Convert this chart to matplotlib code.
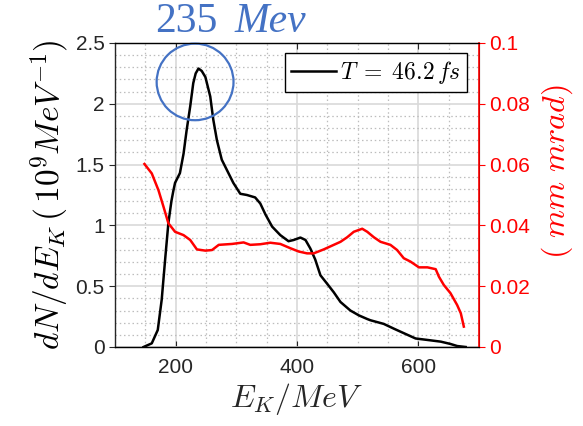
import matplotlib
import matplotlib.pyplot as plt
from matplotlib.patches import Ellipse
from matplotlib.ticker import MultipleLocator

matplotlib.use("agg")

# spectrum (left axis), 10^9 MeV^-1
energy_spec = [147, 160.6, 170.5, 177, 183, 188, 193, 196, 199, 207, 213, 218,
               224, 229, 233, 237.6, 243, 249, 257, 262, 268, 276, 287, 295,
               306.5, 317.5, 331, 339.5, 348, 359, 372.5, 386, 394.5, 405.6,
               414, 422, 430, 438.6, 449.7, 460.6, 471.7, 488, 502, 515.8,
               521, 543, 560, 579, 595.5, 615, 637, 653, 664, 678]
dn_de = [0.0, 0.03, 0.14, 0.39, 0.74, 1.02, 1.20, 1.28, 1.35, 1.43, 1.59, 1.78,
         1.98, 2.17, 2.25, 2.29, 2.27, 2.22, 2.06, 1.87, 1.70, 1.54, 1.43, 1.35,
         1.26, 1.25, 1.23, 1.18, 1.09, 0.99, 0.92, 0.87, 0.88, 0.90,
         0.88, 0.81, 0.72, 0.59, 0.52, 0.45, 0.37, 0.30, 0.26, 0.23,
         0.22, 0.19, 0.15, 0.107, 0.07, 0.058, 0.044, 0.025, 0.008, 0.0]

# emittance (right axis), mm mrad
energy_emit = [148.5, 160.6, 171.6, 180, 188, 199, 213, 224, 235, 249, 260,
               271, 293, 312, 323, 339.5, 356, 372.5, 389, 403, 416.6, 427.5,
               444, 460.6, 471.7, 482.7, 493.6, 507.5, 515.8, 526.7, 537.7,
               554, 565, 576, 587, 601, 615, 628.6, 634, 642, 653, 664, 670,
               675]
emittance = [0.0602, 0.0571, 0.0516, 0.0461, 0.0407, 0.0379, 0.0368, 0.0352,
             0.0321, 0.0317, 0.0319, 0.0336, 0.0339, 0.0344, 0.0336, 0.0338,
             0.0343, 0.0339, 0.0325, 0.0314, 0.0308, 0.0308, 0.0321, 0.0336,
             0.0346, 0.0361, 0.0379, 0.0389, 0.0379, 0.0361, 0.0346, 0.0336,
             0.0319, 0.0292, 0.0281, 0.0262, 0.0262, 0.0256, 0.0231, 0.0204,
             0.0177, 0.0138, 0.0111, 0.0067]

left_ticks = [0, 0.5, 1, 1.5, 2, 2.5]
left_ticklabels = ["0", "0.5", "1", "1.5", "2", "2.5"]
right_ticks = [0, 0.02, 0.04, 0.06, 0.08, 0.1]
right_ticklabels = ["0", "0.02", "0.04", "0.06", "0.08", "0.1"]
x_ticks = [200, 400, 600]

peak_label = "235"
legend_label = r"$T\;=\;46.2\,fs$"

plt.rcParams["mathtext.fontset"] = "cm"
plt.rcParams["font.family"] = ["Liberation Sans", "DejaVu Sans"]

fig = plt.figure(figsize=(5.83, 4.26), dpi=100)
ax = fig.add_axes([115 / 583, 1 - 347 / 426, 364 / 583, 304 / 426])
ax2 = ax.twinx()

dark = "#262626"
red = "#ff0000"
blue = "#4472c4"

# grid
ax.set_axisbelow(True)
ax.xaxis.set_minor_locator(MultipleLocator(50))
ax.yaxis.set_minor_locator(MultipleLocator(0.1))
ax.grid(which="major", color="#d9d9d9", linewidth=1.2)
ax.grid(which="minor", color="#bdbdbd", linestyle=(0, (1.2, 2.2)), linewidth=0.9)

ax.plot(energy_spec, dn_de, color="black", linewidth=1.8, label=legend_label)
ax2.plot(energy_emit, emittance, color=red, linewidth=1.8)

ax.set_xlim(100, 700)
ax.set_ylim(0, 2.5)
ax2.set_ylim(0, 0.1)
ax.set_xticks(x_ticks)
ax.set_yticks(left_ticks, left_ticklabels)
ax2.set_yticks(right_ticks, right_ticklabels)

ax.tick_params(axis="x", which="both", direction="in", top=True, colors=dark,
               labelsize=15, length=4, pad=8)
ax.tick_params(axis="x", which="minor", length=0)
ax.tick_params(axis="y", which="major", direction="out", colors=dark,
               labelsize=15, length=4)
ax.tick_params(axis="y", which="minor", length=0)
ax2.tick_params(axis="y", direction="out", colors=red, labelsize=15, length=4)

for side in ["left", "bottom", "top"]:
    ax.spines[side].set_color(dark)
    ax.spines[side].set_linewidth(1.0)
ax2.spines["right"].set_color(red)
ax2.spines["right"].set_linewidth(1.2)
ax2.spines["left"].set_visible(False)

ax.set_xlabel(r"$E_K/MeV$", fontsize=23, color=dark, labelpad=3)
ax.set_ylabel(r"$dN/dE_K\,(\,10^9MeV^{-1})$", fontsize=24, color="black",
              labelpad=3)
fig.text(557 / 583, 1 - 172 / 426, r"$(\ mm\ mrad)$", fontsize=23, color=red,
         rotation=90, ha="center", va="center")

leg = ax.legend(loc="upper right", bbox_to_anchor=(0.967, 0.967),
                borderaxespad=0, fontsize=17, frameon=True, fancybox=False,
                edgecolor="black", framealpha=1, handlelength=1.9,
                handletextpad=0.2, borderpad=0.25)
leg.get_frame().set_linewidth(1.0)

# circle round the peak
circle = Ellipse((232, 2.18), width=126.7, height=0.63, fill=False,
                 edgecolor=blue, linewidth=1.6, clip_on=False, zorder=5)
ax.add_patch(circle)

fig.text(155 / 583, 1 - 22 / 426, peak_label, color=blue, fontsize=30,
         family="Liberation Serif", va="center", ha="left")
fig.text(234 / 583, 1 - 22 / 426, "Mev", color=blue, fontsize=30,
         family="Liberation Serif", style="italic", va="center", ha="left")

fig.savefig("out.png", dpi=100)
